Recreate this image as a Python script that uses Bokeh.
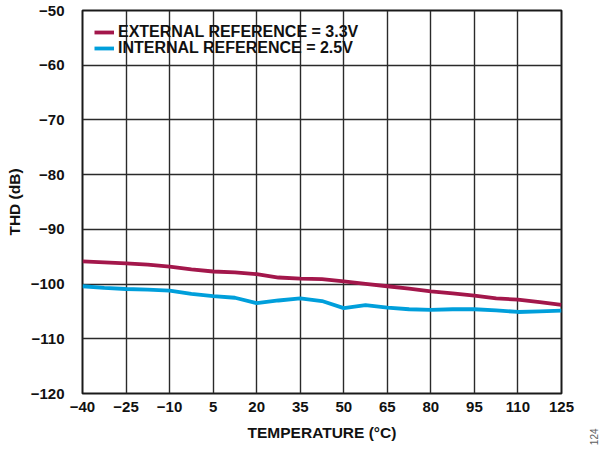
import math
from bokeh.plotting import figure
from bokeh.layouts import row
from bokeh.models import (Legend, LegendItem, FixedTicker, Range1d, LinearAxis)
from bokeh.embed import file_html
from bokeh.resources import INLINE

# ---- data ----
temperature = [-40, -32.5, -25, -17.5, -10, -2.5, 5, 12.5, 20, 27.5, 35, 42.5,
               50, 57.5, 65, 72.5, 80, 87.5, 95, 102.5, 110, 117.5, 125]
thd_external = [-95.85, -96.05, -96.2, -96.45, -96.8, -97.3, -97.7, -97.85, -98.2,
                -98.8, -99.0, -99.1, -99.5, -99.95, -100.4, -100.85, -101.35,
                -101.7, -102.1, -102.6, -102.85, -103.3, -103.8]
thd_internal = [-100.4, -100.7, -100.9, -101.0, -101.2, -101.8, -102.2, -102.5,
                -103.5, -103.0, -102.6, -103.1, -104.4, -103.85, -104.3, -104.6,
                -104.7, -104.6, -104.6, -104.8, -105.1, -105.0, -104.85]
x_ticks = [-40, -25, -10, 5, 20, 35, 50, 65, 80, 95, 110, 125]
y_ticks = [-120, -110, -100, -90, -80, -70, -60, -50]
series_names = ["EXTERNAL REFERENCE = 3.3V", "INTERNAL REFERENCE = 2.5V"]
series_colors = ["#A3174B", "#009FDB"]
figure_number = "124"

FONT = "Liberation Sans, Arial, Helvetica, sans-serif"

p = figure(width=583, height=449, output_backend="svg", toolbar_location=None,
           x_range=Range1d(-40, 125), y_range=Range1d(-120, -50),
           min_border_left=82, min_border_right=22, min_border_top=10,
           min_border_bottom=56)
p.background_fill_color = "white"
p.border_fill_color = "white"
p.outline_line_color = "#1a1a1a"
p.outline_line_width = 2

for ax, ticks in ((p.xaxis[0], x_ticks), (p.yaxis[0], y_ticks)):
    ax.ticker = FixedTicker(ticks=ticks)
    ax.major_label_overrides = {t: str(t).replace("-", "\u2212") for t in ticks}
    ax.axis_line_color = None
    ax.major_tick_line_color = None
    ax.minor_tick_line_color = None
    ax.major_label_text_font = FONT
    ax.major_label_text_font_style = "bold"
    ax.major_label_text_font_size = "15px"
    ax.major_label_text_color = "#111111"
    ax.axis_label_text_font = FONT
    ax.axis_label_text_font_style = "bold"
    ax.axis_label_text_font_size = "15.5px"
    ax.axis_label_text_color = "#111111"

p.xaxis.axis_label = "TEMPERATURE (°C)"
p.yaxis.axis_label = "THD (dB)"
p.xaxis.major_label_standoff = 2
p.xaxis.axis_label_standoff = 9
p.yaxis.major_label_standoff = 12
p.yaxis.axis_label_standoff = 5

p.xgrid.ticker = FixedTicker(ticks=x_ticks)
p.ygrid.ticker = FixedTicker(ticks=y_ticks)
for g in (p.xgrid[0], p.ygrid[0]):
    g.grid_line_color = "#2a2a2a"
    g.grid_line_width = 1.4

r1 = p.line(temperature, thd_external, line_color=series_colors[0], line_width=3.8,
            line_join="round")
r2 = p.line(temperature, thd_internal, line_color=series_colors[1], line_width=3.8,
            line_join="round")

legend_style = dict(padding=0, spacing=0, margin=0,
                    glyph_width=20, glyph_height=14, label_height=14,
                    label_standoff=4, background_fill_alpha=0,
                    border_line_color=None,
                    label_text_font=FONT, label_text_font_style="bold",
                    label_text_font_size="16px", label_text_color="#111111")
leg1 = Legend(items=[LegendItem(label=series_names[0], renderers=[r1])],
              location=(12, 352), **legend_style)
leg2 = Legend(items=[LegendItem(label=series_names[1], renderers=[r2])],
              location=(12, 336.5), **legend_style)
p.add_layout(leg1, "center")
p.add_layout(leg2, "center")

# narrow strip on the right: the rotated figure number is drawn as the
# single tick label of an otherwise invisible axis below its frame
side = figure(width=16, height=449, output_backend="svg", toolbar_location=None,
              x_range=Range1d(-0.5, 15.5), y_range=Range1d(0, 1),
              x_axis_type=None, y_axis_type=None,
              min_border_left=0, min_border_right=0, min_border_top=0,
              min_border_bottom=0)
side.outline_line_color = None
side.grid.visible = False
side.background_fill_color = "white"
side.border_fill_color = "white"
note_axis = LinearAxis(ticker=FixedTicker(ticks=[10]),
                       major_label_overrides={10: figure_number},
                       major_label_orientation=math.pi / 2,
                       major_label_standoff=29,
                       axis_line_color=None, major_tick_line_color=None,
                       minor_tick_line_color=None,
                       major_label_text_font=FONT,
                       major_label_text_font_size="10px",
                       major_label_text_color="#606060")
side.add_layout(note_axis, "below")

layout = row(p, side, spacing=0)
open("out.html", "w").write(file_html(layout, INLINE))
